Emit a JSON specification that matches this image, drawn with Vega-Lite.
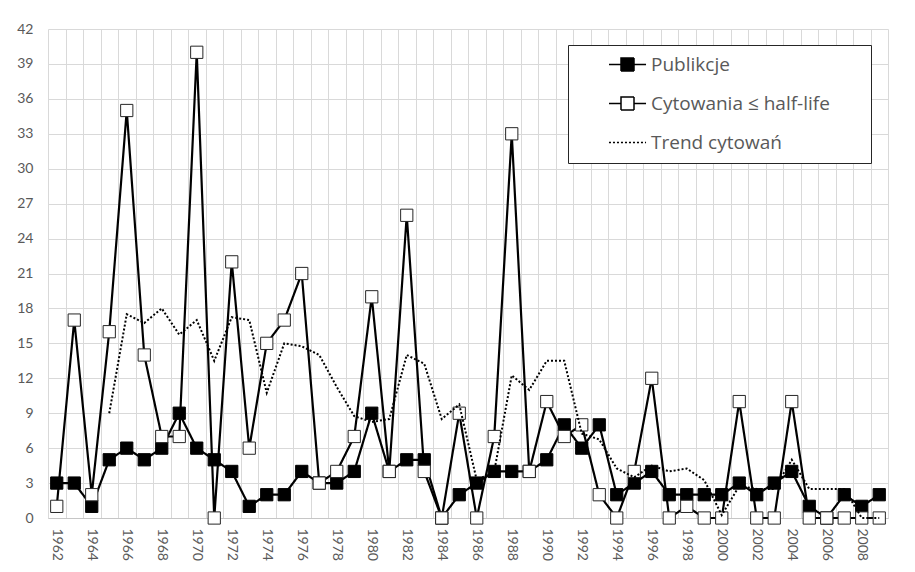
{
  "$schema": "https://vega.github.io/schema/vega-lite/v6.json",
  "width": 840,
  "height": 489,
  "autosize": {"type": "none"},
  "padding": {"left": 48, "top": 29, "right": 27, "bottom": 54},
  "background": "white",
  "config": {"view": {"stroke": null}, "font": "Lato"},
  "data": {"values": [
    {"year": 1962, "series": "Publikcje", "value": 3},
    {"year": 1963, "series": "Publikcje", "value": 3},
    {"year": 1964, "series": "Publikcje", "value": 1},
    {"year": 1965, "series": "Publikcje", "value": 5},
    {"year": 1966, "series": "Publikcje", "value": 6},
    {"year": 1967, "series": "Publikcje", "value": 5},
    {"year": 1968, "series": "Publikcje", "value": 6},
    {"year": 1969, "series": "Publikcje", "value": 9},
    {"year": 1970, "series": "Publikcje", "value": 6},
    {"year": 1971, "series": "Publikcje", "value": 5},
    {"year": 1972, "series": "Publikcje", "value": 4},
    {"year": 1973, "series": "Publikcje", "value": 1},
    {"year": 1974, "series": "Publikcje", "value": 2},
    {"year": 1975, "series": "Publikcje", "value": 2},
    {"year": 1976, "series": "Publikcje", "value": 4},
    {"year": 1977, "series": "Publikcje", "value": 3},
    {"year": 1978, "series": "Publikcje", "value": 3},
    {"year": 1979, "series": "Publikcje", "value": 4},
    {"year": 1980, "series": "Publikcje", "value": 9},
    {"year": 1981, "series": "Publikcje", "value": 4},
    {"year": 1982, "series": "Publikcje", "value": 5},
    {"year": 1983, "series": "Publikcje", "value": 5},
    {"year": 1984, "series": "Publikcje", "value": 0},
    {"year": 1985, "series": "Publikcje", "value": 2},
    {"year": 1986, "series": "Publikcje", "value": 3},
    {"year": 1987, "series": "Publikcje", "value": 4},
    {"year": 1988, "series": "Publikcje", "value": 4},
    {"year": 1989, "series": "Publikcje", "value": 4},
    {"year": 1990, "series": "Publikcje", "value": 5},
    {"year": 1991, "series": "Publikcje", "value": 8},
    {"year": 1992, "series": "Publikcje", "value": 6},
    {"year": 1993, "series": "Publikcje", "value": 8},
    {"year": 1994, "series": "Publikcje", "value": 2},
    {"year": 1995, "series": "Publikcje", "value": 3},
    {"year": 1996, "series": "Publikcje", "value": 4},
    {"year": 1997, "series": "Publikcje", "value": 2},
    {"year": 1998, "series": "Publikcje", "value": 2},
    {"year": 1999, "series": "Publikcje", "value": 2},
    {"year": 2000, "series": "Publikcje", "value": 2},
    {"year": 2001, "series": "Publikcje", "value": 3},
    {"year": 2002, "series": "Publikcje", "value": 2},
    {"year": 2003, "series": "Publikcje", "value": 3},
    {"year": 2004, "series": "Publikcje", "value": 4},
    {"year": 2005, "series": "Publikcje", "value": 1},
    {"year": 2006, "series": "Publikcje", "value": 0},
    {"year": 2007, "series": "Publikcje", "value": 2},
    {"year": 2008, "series": "Publikcje", "value": 1},
    {"year": 2009, "series": "Publikcje", "value": 2},
    {"year": 1962, "series": "Cytowania ≤ half-life", "value": 1},
    {"year": 1963, "series": "Cytowania ≤ half-life", "value": 17},
    {"year": 1964, "series": "Cytowania ≤ half-life", "value": 2},
    {"year": 1965, "series": "Cytowania ≤ half-life", "value": 16},
    {"year": 1966, "series": "Cytowania ≤ half-life", "value": 35},
    {"year": 1967, "series": "Cytowania ≤ half-life", "value": 14},
    {"year": 1968, "series": "Cytowania ≤ half-life", "value": 7},
    {"year": 1969, "series": "Cytowania ≤ half-life", "value": 7},
    {"year": 1970, "series": "Cytowania ≤ half-life", "value": 40},
    {"year": 1971, "series": "Cytowania ≤ half-life", "value": 0},
    {"year": 1972, "series": "Cytowania ≤ half-life", "value": 22},
    {"year": 1973, "series": "Cytowania ≤ half-life", "value": 6},
    {"year": 1974, "series": "Cytowania ≤ half-life", "value": 15},
    {"year": 1975, "series": "Cytowania ≤ half-life", "value": 17},
    {"year": 1976, "series": "Cytowania ≤ half-life", "value": 21},
    {"year": 1977, "series": "Cytowania ≤ half-life", "value": 3},
    {"year": 1978, "series": "Cytowania ≤ half-life", "value": 4},
    {"year": 1979, "series": "Cytowania ≤ half-life", "value": 7},
    {"year": 1980, "series": "Cytowania ≤ half-life", "value": 19},
    {"year": 1981, "series": "Cytowania ≤ half-life", "value": 4},
    {"year": 1982, "series": "Cytowania ≤ half-life", "value": 26},
    {"year": 1983, "series": "Cytowania ≤ half-life", "value": 4},
    {"year": 1984, "series": "Cytowania ≤ half-life", "value": 0},
    {"year": 1985, "series": "Cytowania ≤ half-life", "value": 9},
    {"year": 1986, "series": "Cytowania ≤ half-life", "value": 0},
    {"year": 1987, "series": "Cytowania ≤ half-life", "value": 7},
    {"year": 1988, "series": "Cytowania ≤ half-life", "value": 33},
    {"year": 1989, "series": "Cytowania ≤ half-life", "value": 4},
    {"year": 1990, "series": "Cytowania ≤ half-life", "value": 10},
    {"year": 1991, "series": "Cytowania ≤ half-life", "value": 7},
    {"year": 1992, "series": "Cytowania ≤ half-life", "value": 8},
    {"year": 1993, "series": "Cytowania ≤ half-life", "value": 2},
    {"year": 1994, "series": "Cytowania ≤ half-life", "value": 0},
    {"year": 1995, "series": "Cytowania ≤ half-life", "value": 4},
    {"year": 1996, "series": "Cytowania ≤ half-life", "value": 12},
    {"year": 1997, "series": "Cytowania ≤ half-life", "value": 0},
    {"year": 1998, "series": "Cytowania ≤ half-life", "value": 1},
    {"year": 1999, "series": "Cytowania ≤ half-life", "value": 0},
    {"year": 2000, "series": "Cytowania ≤ half-life", "value": 0},
    {"year": 2001, "series": "Cytowania ≤ half-life", "value": 10},
    {"year": 2002, "series": "Cytowania ≤ half-life", "value": 0},
    {"year": 2003, "series": "Cytowania ≤ half-life", "value": 0},
    {"year": 2004, "series": "Cytowania ≤ half-life", "value": 10},
    {"year": 2005, "series": "Cytowania ≤ half-life", "value": 0},
    {"year": 2006, "series": "Cytowania ≤ half-life", "value": 0},
    {"year": 2007, "series": "Cytowania ≤ half-life", "value": 0},
    {"year": 2008, "series": "Cytowania ≤ half-life", "value": 0},
    {"year": 2009, "series": "Cytowania ≤ half-life", "value": 0},
    {"year": 1965, "series": "Trend cytowań", "value": 9},
    {"year": 1966, "series": "Trend cytowań", "value": 17.5},
    {"year": 1967, "series": "Trend cytowań", "value": 16.75},
    {"year": 1968, "series": "Trend cytowań", "value": 18},
    {"year": 1969, "series": "Trend cytowań", "value": 15.75},
    {"year": 1970, "series": "Trend cytowań", "value": 17},
    {"year": 1971, "series": "Trend cytowań", "value": 13.5},
    {"year": 1972, "series": "Trend cytowań", "value": 17.25},
    {"year": 1973, "series": "Trend cytowań", "value": 17},
    {"year": 1974, "series": "Trend cytowań", "value": 10.75},
    {"year": 1975, "series": "Trend cytowań", "value": 15},
    {"year": 1976, "series": "Trend cytowań", "value": 14.75},
    {"year": 1977, "series": "Trend cytowań", "value": 14},
    {"year": 1978, "series": "Trend cytowań", "value": 11.25},
    {"year": 1979, "series": "Trend cytowań", "value": 8.75},
    {"year": 1980, "series": "Trend cytowań", "value": 8.25},
    {"year": 1981, "series": "Trend cytowań", "value": 8.5},
    {"year": 1982, "series": "Trend cytowań", "value": 14},
    {"year": 1983, "series": "Trend cytowań", "value": 13.25},
    {"year": 1984, "series": "Trend cytowań", "value": 8.5},
    {"year": 1985, "series": "Trend cytowań", "value": 9.75},
    {"year": 1986, "series": "Trend cytowań", "value": 3.25},
    {"year": 1987, "series": "Trend cytowań", "value": 4},
    {"year": 1988, "series": "Trend cytowań", "value": 12.25},
    {"year": 1989, "series": "Trend cytowań", "value": 11},
    {"year": 1990, "series": "Trend cytowań", "value": 13.5},
    {"year": 1991, "series": "Trend cytowań", "value": 13.5},
    {"year": 1992, "series": "Trend cytowań", "value": 7.25},
    {"year": 1993, "series": "Trend cytowań", "value": 6.75},
    {"year": 1994, "series": "Trend cytowań", "value": 4.25},
    {"year": 1995, "series": "Trend cytowań", "value": 3.5},
    {"year": 1996, "series": "Trend cytowań", "value": 4.5},
    {"year": 1997, "series": "Trend cytowań", "value": 4},
    {"year": 1998, "series": "Trend cytowań", "value": 4.25},
    {"year": 1999, "series": "Trend cytowań", "value": 3.25},
    {"year": 2000, "series": "Trend cytowań", "value": 0.25},
    {"year": 2001, "series": "Trend cytowań", "value": 2.75},
    {"year": 2002, "series": "Trend cytowań", "value": 2.5},
    {"year": 2003, "series": "Trend cytowań", "value": 2.5},
    {"year": 2004, "series": "Trend cytowań", "value": 5},
    {"year": 2005, "series": "Trend cytowań", "value": 2.5},
    {"year": 2006, "series": "Trend cytowań", "value": 2.5},
    {"year": 2007, "series": "Trend cytowań", "value": 2.5},
    {"year": 2008, "series": "Trend cytowań", "value": 0},
    {"year": 2009, "series": "Trend cytowań", "value": 0}
  ]},
  "encoding": {
    "x": {
      "field": "year", "type": "ordinal", "bandPosition": 0.5,
      "scale": {"type": "band", "paddingInner": 0, "paddingOuter": 0},
      "axis": {
        "title": null, "labelAngle": 90,
        "labelExpr": "datum.value % 2 === 0 ? datum.label : ''",
        "tickBand": "extent", "grid": true, "gridColor": "#d9d9d9", "gridWidth": 1,
        "ticks": false, "domainColor": "#c6c6c6", "labelColor": "#595959",
        "labelFontSize": 14, "labelPadding": 10, "labelOverlap": false
      }
    },
    "y": {
      "field": "value", "type": "quantitative",
      "scale": {"domain": [0, 42], "nice": false},
      "axis": {
        "title": null, "values": [0, 3, 6, 9, 12, 15, 18, 21, 24, 27, 30, 33, 36, 39, 42],
        "grid": true, "gridColor": "#d9d9d9", "gridWidth": 1, "ticks": false, "domain": false,
        "labelColor": "#595959", "labelFontSize": 14, "labelPadding": 15
      }
    }
  },
  "layer": [
    {
      "transform": [{"filter": "datum.series === 'Publikcje'"}],
      "mark": {"type": "line", "color": "black", "strokeWidth": 2.2},
      "encoding": {
        "strokeDash": {
          "field": "series", "type": "nominal",
          "scale": {"domain": ["Publikcje", "Cytowania ≤ half-life", "Trend cytowań"], "range": [[1, 0], [1, 0], [2, 2]]},
          "legend": {
            "title": " ", "titleOrient": "right", "titlePadding": 31, "titleFontSize": 1,
            "orient": "none", "legendX": 520, "legendY": 16,
            "padding": 10, "strokeColor": "#262626", "fillColor": "white",
            "symbolSize": 169, "symbolStrokeWidth": 1.5, "symbolOffset": 40, "labelOffset": 14,
            "symbolType": {"expr": "datum.value === 'Trend cytowań' ? 'M-2.85,0H2.85' : 'M-2.85,0H-1M1,0H2.85M-1,-1H1V1H-1Z'"},
            "symbolFillColor": {"expr": "datum.value === 'Publikcje' ? 'black' : 'white'"},
            "symbolStrokeColor": "black",
            "rowPadding": 19, "labelFontSize": 19, "labelColor": "#595959", "labelFont": "Open Sans", "labelLimit": 400
          }
        }
      }
    },
    {
      "transform": [{"filter": "datum.series === 'Publikcje'"}],
      "mark": {"type": "square", "filled": true, "fill": "black", "stroke": "black", "strokeWidth": 1, "size": 150, "opacity": 1}
    },
    {
      "transform": [{"filter": "datum.series === 'Cytowania ≤ half-life'"}],
      "mark": {"type": "line", "color": "black", "strokeWidth": 2.2},
      "encoding": {"strokeDash": {"field": "series", "type": "nominal"}}
    },
    {
      "transform": [{"filter": "datum.series === 'Cytowania ≤ half-life'"}],
      "mark": {"type": "square", "filled": true, "fill": "white", "stroke": "#262626", "strokeWidth": 1, "size": 150, "opacity": 1}
    },
    {
      "transform": [{"filter": "datum.series === 'Trend cytowań'"}],
      "mark": {"type": "line", "color": "black", "strokeWidth": 2},
      "encoding": {"strokeDash": {"field": "series", "type": "nominal"}}
    }
  ]
}
